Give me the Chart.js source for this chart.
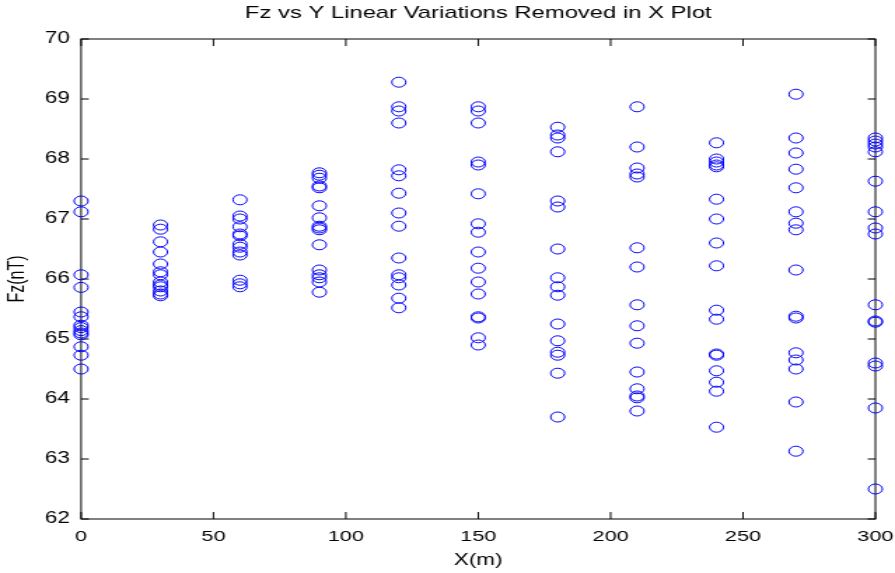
<!DOCTYPE html>
<html>
<head>
<meta charset="utf-8">
<title>Fz vs Y Linear Variations Removed in X Plot</title>
<script src="https://cdn.jsdelivr.net/npm/chart.js@4.4.1/dist/chart.umd.min.js"></script>
<style>
  html, body { margin: 0; padding: 0; background: #fff; }
  #fzChart { display: block; }
</style>
</head>
<body>
<!-- drawn at 639px wide and shown at 895px, so text and rings come out wide -->
<canvas id="fzChart" width="639" height="573" style="width:895px;height:573px"></canvas>
<script>
// survey lines along X (m)
const X_POSITIONS = [0, 30, 60, 90, 120, 150, 180, 210, 240, 270, 300];

// Fz readings (nT) on each line
const FZ_X0 = [67.30, 67.12, 66.07, 65.86, 65.45, 65.37, 65.23, 65.19, 65.14, 65.10, 65.07, 64.87, 64.73, 64.50];
const FZ_X30 = [66.90, 66.83, 66.62, 66.45, 66.25, 66.12, 66.07, 65.95, 65.90, 65.87, 65.80, 65.75, 65.72];
const FZ_X60 = [67.32, 67.05, 67.00, 66.87, 66.75, 66.72, 66.58, 66.53, 66.45, 66.40, 65.98, 65.92, 65.87];
const FZ_X90 = [67.77, 67.73, 67.68, 67.55, 67.52, 67.22, 67.02, 66.88, 66.85, 66.82, 66.57, 66.15, 66.07, 66.02, 65.95, 65.78];
const FZ_X120 = [69.28, 68.87, 68.80, 68.60, 67.82, 67.72, 67.43, 67.10, 66.88, 66.35, 66.07, 66.02, 65.90, 65.68, 65.52];
const FZ_X150 = [68.87, 68.80, 68.60, 67.95, 67.90, 67.42, 66.92, 66.78, 66.45, 66.18, 65.95, 65.75, 65.37, 65.35, 65.02, 64.90];
const FZ_X180 = [68.53, 68.40, 68.35, 68.12, 67.30, 67.20, 66.50, 66.02, 65.87, 65.73, 65.25, 64.97, 64.78, 64.73, 64.43, 63.70];
const FZ_X210 = [68.87, 68.20, 67.85, 67.75, 67.70, 66.52, 66.20, 65.57, 65.22, 64.93, 64.45, 64.17, 64.05, 64.02, 63.80];
const FZ_X240 = [68.27, 68.00, 67.95, 67.90, 67.87, 67.33, 67.00, 66.60, 66.22, 65.48, 65.33, 64.75, 64.73, 64.47, 64.28, 64.13, 63.53];
const FZ_X270 = [69.08, 68.35, 68.10, 67.83, 67.52, 67.12, 66.93, 66.82, 66.15, 65.38, 65.35, 64.77, 64.65, 64.50, 63.95, 63.13];
const FZ_X300 = [68.35, 68.30, 68.25, 68.20, 68.12, 67.63, 67.12, 66.85, 66.75, 65.57, 65.30, 65.28, 64.60, 64.55, 63.85, 62.50];

const FZ_COLUMNS = [FZ_X0, FZ_X30, FZ_X60, FZ_X90, FZ_X120, FZ_X150, FZ_X180, FZ_X210, FZ_X240, FZ_X270, FZ_X300];

const X_TICKS = [0, 50, 100, 150, 200, 250, 300];
const Y_TICKS = [62, 63, 64, 65, 66, 67, 68, 69, 70];

Chart.defaults.font.family = "'Liberation Sans', Arial, Helvetica, sans-serif";
Chart.defaults.color = "#000";

// box round the plot with inward ticks on every side
const boxAxes = {
  id: "boxAxes",
  beforeDatasetsDraw(chart) {
    const { ctx, chartArea: a, scales } = chart;
    ctx.save();
    ctx.strokeStyle = "#000";
    ctx.lineWidth = 1;
    ctx.strokeRect(a.left, a.top, a.right - a.left, a.bottom - a.top);
    ctx.beginPath();
    X_TICKS.forEach((v) => {
      const px = scales.x.getPixelForValue(v);
      ctx.moveTo(px, a.bottom);
      ctx.lineTo(px, a.bottom - 7);
      ctx.moveTo(px, a.top);
      ctx.lineTo(px, a.top + 7);
    });
    Y_TICKS.forEach((v) => {
      const py = scales.y.getPixelForValue(v);
      ctx.moveTo(a.left, py);
      ctx.lineTo(a.left + 5.5, py);
      ctx.moveTo(a.right, py);
      ctx.lineTo(a.right - 5.5, py);
    });
    ctx.stroke();
    ctx.restore();
  },
};

const points = [];
X_POSITIONS.forEach((x, i) => {
  FZ_COLUMNS[i].forEach((fz) => points.push({ x: x, y: fz }));
});

new Chart(document.getElementById("fzChart").getContext("2d"), {
  type: "scatter",
  data: {
    datasets: [
      {
        data: points,
        pointStyle: "circle",
        pointRadius: 5,
        pointBorderWidth: 1,
        pointBorderColor: "#0000ff",
        pointBackgroundColor: "rgba(0,0,0,0)",
        clip: false,
      },
    ],
  },
  options: {
    responsive: false,
    devicePixelRatio: 1,
    animation: false,
    events: [],
    layout: { padding: { left: 0, right: 14, top: 0, bottom: 0 } },
    plugins: {
      legend: { display: false },
      tooltip: { enabled: false },
      title: {
        display: true,
        fullSize: false,
        text: "Fz vs Y Linear Variations Removed in X Plot",
        font: { size: 17, weight: "normal" },
        padding: { top: 2.8, bottom: 15.8 },
      },
    },
    scales: {
      x: {
        type: "linear",
        min: 0,
        max: 300,
        afterBuildTicks: (scale) => {
          scale.ticks = X_TICKS.map((v) => ({ value: v }));
        },
        afterFit: (scale) => {
          scale.height = 54;
          // let the end labels hang past the plot edge
          scale.paddingLeft = 0;
          scale.paddingRight = 0;
        },
        grid: { display: false, drawTicks: false },
        border: { display: false },
        ticks: { font: { size: 15.5 }, padding: 8, maxRotation: 0 },
        title: { display: true, text: "X(m)", font: { size: 16 }, padding: { top: 0, bottom: 2.4 } },
      },
      y: {
        type: "linear",
        min: 62,
        max: 70,
        afterBuildTicks: (scale) => {
          scale.ticks = Y_TICKS.map((v) => ({ value: v }));
        },
        afterFit: (scale) => {
          scale.width = 57.9;
          scale.paddingTop = 0;
          scale.paddingBottom = 0;
        },
        grid: { display: false, drawTicks: false },
        border: { display: false },
        ticks: { font: { size: 16 }, padding: 8 },
        title: { display: true, text: "Fz(nT)", font: { size: 16 }, padding: { top: 3.3, bottom: 0 } },
      },
    },
  },
  plugins: [boxAxes],
});
</script>
</body>
</html>
